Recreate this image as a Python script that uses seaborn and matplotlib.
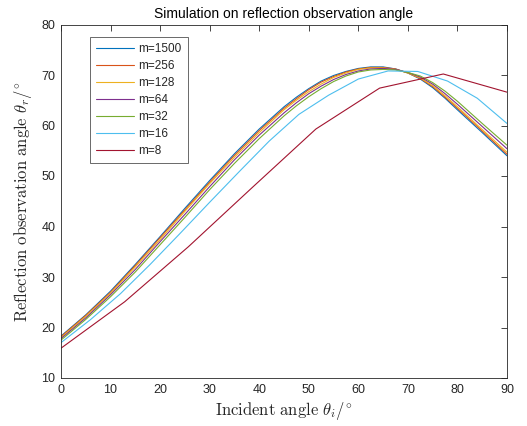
import matplotlib
matplotlib.use("Agg")
import matplotlib.pyplot as plt
import pandas as pd
import seaborn as sns

# ---- data ----
x_fine = [0, 5, 10, 15, 20, 25, 30, 35, 40, 45, 47.5, 50, 52.5, 55, 57.5, 60,
          62.5, 65, 67.5, 70, 72.5, 75, 77.5, 80, 85, 90]
y_m1500 = [18.3, 22.5, 27.2, 32.5, 38.0, 43.6, 49.1, 54.4, 59.3, 63.7, 65.6, 67.3, 68.8,
           69.9, 70.7, 71.3, 71.6, 71.6, 71.2, 70.4, 69.2, 67.5, 65.4, 63.1, 58.6, 54.0]
y_m256 = [18.2, 22.4, 27.0, 32.3, 37.8, 43.3, 48.8, 54.1, 59.0, 63.4, 65.3, 67.1, 68.6,
          69.7, 70.6, 71.2, 71.5, 71.5, 71.2, 70.4, 69.3, 67.7, 65.6, 63.4, 58.9, 54.3]
y_m128 = [18.0, 22.2, 26.8, 32.0, 37.4, 43.0, 48.5, 53.7, 58.6, 63.1, 65.0, 66.7, 68.2,
          69.5, 70.4, 71.1, 71.4, 71.4, 71.1, 70.4, 69.4, 67.9, 65.9, 63.7, 59.2, 54.7]
y_m64 = [17.8, 21.9, 26.5, 31.5, 37.0, 42.4, 47.9, 53.2, 58.1, 62.5, 64.5, 66.3, 67.8,
         69.1, 70.1, 70.8, 71.2, 71.3, 71.1, 70.5, 69.6, 68.2, 66.3, 64.2, 59.8, 55.4]
y_m32 = [17.5, 21.6, 26.1, 31.0, 36.4, 41.8, 47.3, 52.5, 57.4, 61.9, 63.9, 65.7, 67.3,
         68.7, 69.8, 70.6, 71.0, 71.1, 71.0, 70.5, 69.8, 68.5, 66.8, 64.8, 60.4, 56.1]
x_m16 = [0, 6, 12, 18, 24, 30, 36, 42, 48, 54, 60, 66, 72, 78, 84, 90]
y_m16 = [17.0, 21.6, 26.7, 32.5, 38.6, 44.8, 50.9, 56.9, 62.2, 66.0, 69.2, 70.8, 70.7, 68.8, 65.4, 60.4]
x_m8 = [0, 12.857, 25.714, 38.571, 51.429, 64.286, 77.143, 90]
y_m8 = [15.9, 25.1, 36.0, 47.7, 59.3, 67.4, 70.2, 66.6]

labels = ["m=1500", "m=256", "m=128", "m=64", "m=32", "m=16", "m=8"]
colors = ["#0072BD", "#D95319", "#EDB120", "#7E2F8E", "#77AC30", "#4DBEEE", "#A2142F"]

series = [
    (x_fine, y_m1500), (x_fine, y_m256), (x_fine, y_m128), (x_fine, y_m64),
    (x_fine, y_m32), (x_m16, y_m16), (x_m8, y_m8),
]
frames = []
for lab, (xs, ys) in zip(labels, series):
    frames.append(pd.DataFrame({"x": xs, "y": ys, "m": lab}))
df = pd.concat(frames, ignore_index=True)

sns.set_style("white")
plt.rcParams["font.family"] = ["Liberation Sans", "DejaVu Sans"]
plt.rcParams["mathtext.fontset"] = "cm"

W, H = 527, 426
fig = plt.figure(figsize=(W / 100, H / 100), dpi=100)
L, R, T, B = 61, 507, 24.5, 378
ax = fig.add_axes([L / W, (H - B) / H, (R - L) / W, (B - T) / H])

sns.lineplot(data=df, x="x", y="y", hue="m", hue_order=labels,
             palette=dict(zip(labels, colors)), estimator=None, sort=False,
             linewidth=0.8, ax=ax, legend=False)

ax.set_xlim(0, 90)
ax.set_ylim(10, 80)
ax.set_xticks(range(0, 91, 10))
ax.set_yticks(range(10, 81, 10))
ax.tick_params(direction="in", top=True, right=True, length=4, width=0.6,
               colors="#262626", labelsize=9, pad=4)
for s in ax.spines.values():
    s.set_color("#262626")
    s.set_linewidth(0.6)

ax.set_title("Simulation on reflection observation angle", fontsize=10,
             color="black", pad=5)
ax.set_xlabel(r"$\mathrm{Incident\ angle}\ \theta_i{/}^{\circ}$", fontsize=12,
              labelpad=3)
ax.set_ylabel(r"$\mathrm{Reflection\ observation\ angle}\ \theta_r{/}^{\circ}$",
              fontsize=12, labelpad=5)

handles = [plt.Line2D([], [], color=c, lw=0.8) for c in colors]
leg = ax.legend(handles, labels, loc="upper left",
                bbox_to_anchor=((90 - L) / (R - L), (B - 37) / (B - T)),
                borderaxespad=0, frameon=True, fancybox=False, fontsize=8.5,
                handlelength=3.2, handletextpad=0.4, labelspacing=0.43,
                borderpad=0.5)
leg.get_frame().set_edgecolor("#262626")
leg.get_frame().set_linewidth(0.6)

fig.savefig("out.png", dpi=100)
